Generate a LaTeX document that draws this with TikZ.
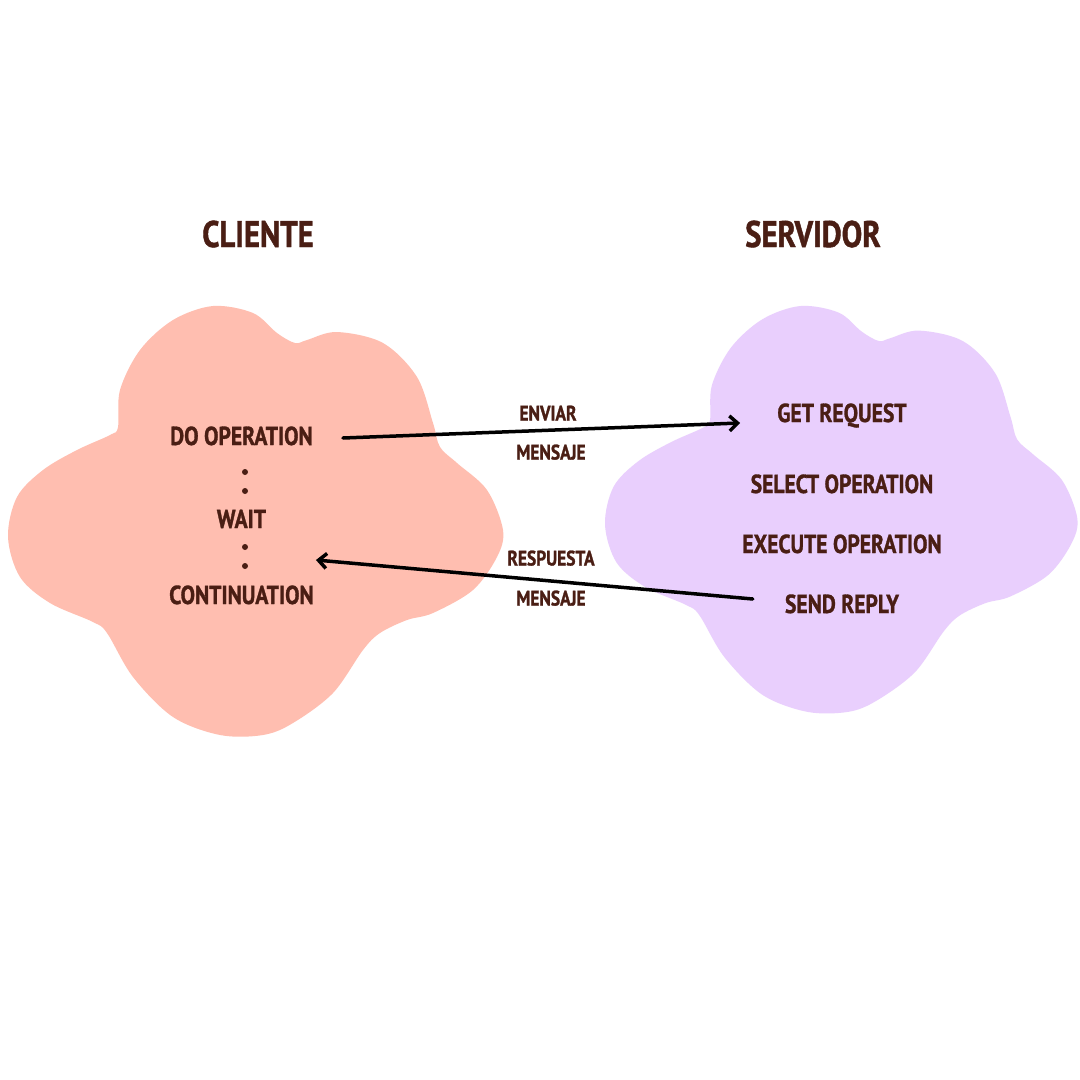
\documentclass[tikz,border=0pt]{standalone}
\usepackage{fontspec}
\setmainfont{PT Sans}[FakeStretch=0.83, BoldFeatures={FakeBold=1.2}]
\usetikzlibrary{arrows.meta}
\definecolor{salmon}{HTML}{FFBEB0}
\definecolor{lilac}{HTML}{E9CFFD}
\definecolor{ink}{HTML}{4A1E14}
\tikzset{
  title/.style={text=ink, inner sep=0pt, text height=26pt, text depth=0pt, font=\fontsize{37}{37}\selectfont\bfseries},
  item/.style={text=ink, inner sep=0pt, text height=18pt, text depth=0pt, font=\fontsize{26}{26}\selectfont\bfseries},
  lbl/.style={text=ink, inner sep=0pt, text height=15pt, text depth=0pt, font=\fontsize{21}{21}\selectfont\bfseries},
  dot/.style={circle, fill=ink, inner sep=0pt, minimum size=6pt},
  msg/.style={line width=3.5pt, line cap=round},
  cloud/.pic={\fill[#1] plot[smooth cycle, tension=0.55] coordinates {
    (120,390) (140,350) (173,320) (213,306) (253,313) (277,333) (295,343)
    (307,340) (337,332) (383,343) (417,377) (433,423) (440,447) (457,463)
    (487,490) (503,530) (497,557) (473,590) (433,613) (407,620) (380,633)
    (363,650) (333,693) (293,723) (263,735) (220,735) (173,717) (133,677)
    (107,633) (93,622) (50,603) (20,577) (8,537) (17,497) (43,470) (77,450)
    (110,435) (118,427)};}
}
\begin{document}
\begin{tikzpicture}[x=1pt, y=-1pt]
\useasboundingbox[fill=white] (0,0) rectangle (1080,1080);
\pic at (0,0) {cloud=salmon};
\begin{scope}[shift={(605,306)}, xscale=0.954, yscale=0.946, shift={(-8,-306)}]
\pic[transform shape] at (0,0) {cloud=lilac};
\end{scope}
\node[title] (cl) at (258,234) {CLIENTE};
\node[title] (sv) at (813,234) {SERVIDOR};
\node[item] (op) at (241.5,436) {DO OPERATION};
\node[dot] (d1) at (245,472) {};
\node[dot] (d2) at (245,491) {};
\node[item] (wt) at (241.5,519) {WAIT};
\node[dot] (d3) at (245,547) {};
\node[dot] (d4) at (245,566) {};
\node[item] (ct) at (241.5,595) {CONTINUATION};
\node[item] (gr) at (842,413) {GET REQUEST};
\node[item] (so) at (842,484) {SELECT OPERATION};
\node[item] (eo) at (842,544) {EXECUTE OPERATION};
\node[item] (sr) at (842,604) {SEND REPLY};
\node[lbl] (e1) at (548,413) {ENVIAR};
\node[lbl] (m1) at (551,452) {MENSAJE};
\node[lbl] (r1) at (551,558) {RESPUESTA};
\node[lbl] (m2) at (551,598) {MENSAJE};
\draw[msg, ->, >={Straight Barb[length=8pt, width=15pt]}] ([xshift=30pt, yshift=-2pt]op.east) -- ([xshift=-37pt, yshift=-10pt]gr.west);
\draw[msg, ->, >={Straight Barb[length=8pt, width=15pt]}] ([xshift=-32pt, yshift=5pt]sr.west) -- ([xshift=2pt, yshift=35pt]ct.east);
\end{tikzpicture}
\end{document}
